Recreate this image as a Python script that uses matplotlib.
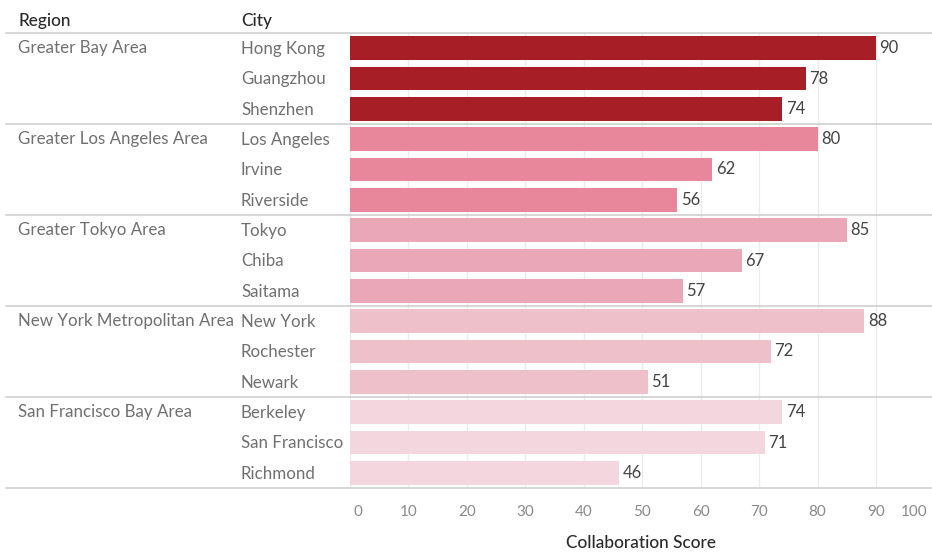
import matplotlib
matplotlib.use("Agg")
import matplotlib.pyplot as plt
from matplotlib.transforms import blended_transform_factory, offset_copy

# Data
regions = ["Greater Bay Area", "Greater Los Angeles Area", "Greater Tokyo Area",
           "New York Metropolitan Area", "San Francisco Bay Area"]
cities = [
    ["Hong Kong", "Guangzhou", "Shenzhen"],
    ["Los Angeles", "Irvine", "Riverside"],
    ["Tokyo", "Chiba", "Saitama"],
    ["New York", "Rochester", "Newark"],
    ["Berkeley", "San Francisco", "Richmond"],
]
scores = [
    [90, 78, 74],
    [80, 62, 56],
    [85, 67, 57],
    [88, 72, 51],
    [74, 71, 46],
]
region_colors = ["#a81e27", "#e8869c", "#e9a7b8", "#edc0ca", "#f4d7de"]
tick_values = [0, 10, 20, 30, 40, 50, 60, 70, 80, 90, 100]
x_title = "Collaboration Score"

plt.rcParams["font.family"] = ["Lato", "DejaVu Sans"]

W, H = 932, 552
fig = plt.figure(figsize=(W / 100, H / 100), dpi=100)
ax_left, ax_right = 350 / W, 932 / W
ax_top, ax_bottom = 1 - 33 / H, 1 - 488 / H
ax = fig.add_axes([ax_left, ax_bottom, ax_right - ax_left, ax_top - ax_bottom])

n_rows = sum(len(c) for c in cities)
row = 0
rows_y, bar_vals, bar_cols = [], [], []
for g, (reg, cs, vs) in enumerate(zip(regions, cities, scores)):
    for c, v in zip(cs, vs):
        rows_y.append(row)
        bar_vals.append(v)
        bar_cols.append(region_colors[g])
        row += 1

ax.barh(rows_y, bar_vals, height=0.79, color=bar_cols, zorder=2)

xmax = (932 - 350) / ((876 - 350) / 90)
ax.set_xlim(0, xmax)
ax.set_ylim(n_rows - 0.5, -0.5)

# Gridlines and tick labels
TICK_PAD = 12
TICK_SIZE = 11
ax.set_xticks([t for t in tick_values if t <= xmax])
ax.grid(axis="x", color="#ececec", linewidth=1, zorder=0)
ax.set_yticks([])
ax.tick_params(axis="x", length=0, labelsize=TICK_SIZE, labelcolor="#8a8a8a", pad=TICK_PAD)
labels = ax.set_xticklabels([str(t) for t in tick_values if t <= xmax])
labels[0].set_ha("left")
labels[0].set_transform(offset_copy(labels[0].get_transform(), fig=fig, x=3, y=0, units="dots"))
for s in ax.spines.values():
    s.set_visible(False)

# The "100" tick sits just past the right edge
ax.text(1.0, 0, str(tick_values[-1]),
        transform=offset_copy(ax.transAxes, fig=fig, x=-3, y=-TICK_PAD, units="points"),
        ha="right", va="top", fontsize=TICK_SIZE, color="#8a8a8a")

# Value labels
for y, v in zip(rows_y, bar_vals):
    ax.annotate(str(v), (v, y), xytext=(2.5, 0), textcoords="offset points",
                va="center", ha="left", fontsize=12, color="#444444")

# Row headers
tr = blended_transform_factory(fig.transFigure, ax.transData)
row = 0
for reg, cs in zip(regions, cities):
    ax.text(18 / W, row - 0.02, reg, transform=tr, ha="left", va="center",
            fontsize=12.2, color="#707070", clip_on=False)
    for c in cs:
        ax.text(241 / W, row + 0.03, c, transform=tr, ha="left", va="center",
                fontsize=12.2, color="#707070", clip_on=False)
        row += 1

# Column headers
fig.text(18 / W, 1 - 21 / H, "Region", ha="left", va="center", fontsize=12.4,
         color="#2a2a2a", fontweight="medium")
fig.text(241 / W, 1 - 21 / H, "City", ha="left", va="center", fontsize=12.4,
         color="#2a2a2a", fontweight="medium")

# Group separators
bounds = [-0.5]
acc = -0.5
for cs in cities:
    acc += len(cs)
    bounds.append(acc)
for b in bounds:
    ax.plot([6 / W, 1.0], [b, b], transform=tr, color="#cfcfcf", linewidth=1.2,
            clip_on=False, zorder=3)

fig.text(641 / W, 1 - 543 / H, x_title, ha="center", va="center", fontsize=12.4,
         color="#2a2a2a", fontweight="medium")

fig.savefig("out.png", dpi=100, facecolor="white")
